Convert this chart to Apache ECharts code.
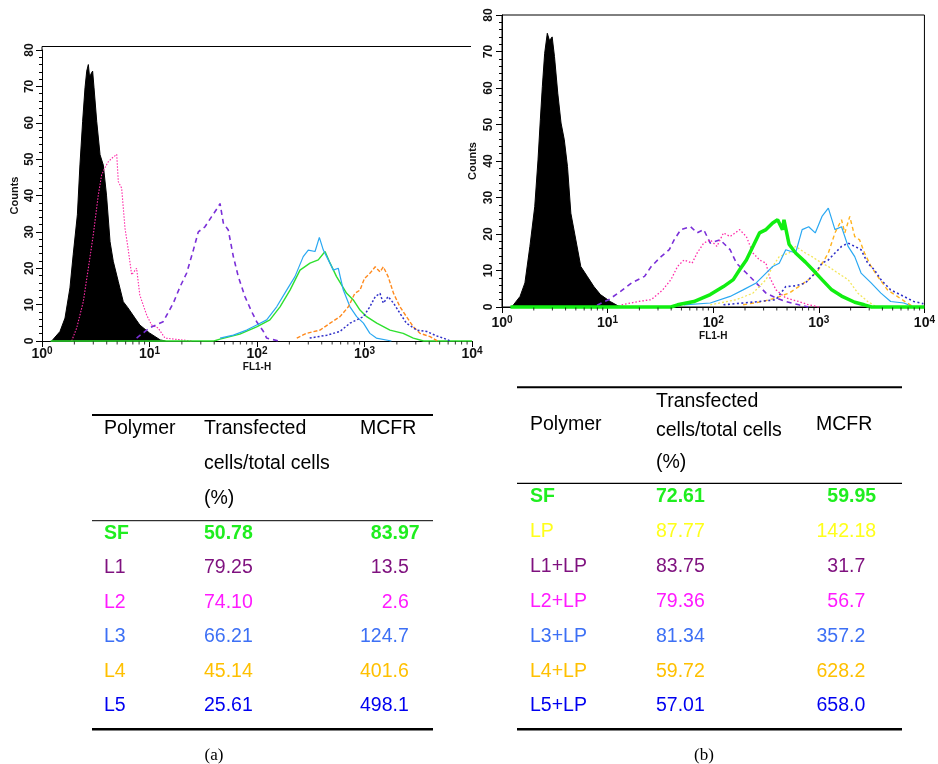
<!DOCTYPE html>
<html><head><meta charset="utf-8">
<script src="https://cdn.jsdelivr.net/npm/echarts@6/dist/echarts.min.js"></script>
<style>html,body{margin:0;padding:0;background:#fff}#c{width:938px;height:764px}</style>
</head><body><div id="c"></div>
<script>
// ---------- Histogram data: [log10(FL1-H), Counts] ----------
// Panel (a)
const controlA = [[0.09,0],[0.167,2.6],[0.214,6.3],[0.26,14.6],[0.29,23.7],[0.329,34.7],[0.353,48.4],[0.378,60.4],[0.40,69.6],[0.416,74.2],[0.431,76],[0.443,72.5],[0.453,73.3],[0.471,74.2],[0.484,69.6],[0.509,60.4],[0.54,51.2],[0.57,48.4],[0.60,40.1],[0.633,27.3],[0.663,21.9],[0.71,16.3],[0.756,10.8],[0.80,9.1],[0.865,6.3],[0.91,4.4],[1.0,2.2],[1.1,0.3],[1.15,0]];
const l2A = [[0.276,0],[0.323,3.6],[0.384,10.8],[0.431,20],[0.477,29.2],[0.524,40.2],[0.555,45.7],[0.585,47.6],[0.617,49.3],[0.648,50.2],[0.695,51.3],[0.71,43.8],[0.741,42],[0.772,31],[0.80,25.6],[0.834,18.2],[0.88,20],[0.91,12.6],[0.974,7.1],[1.02,4.4],[1.08,3.6],[1.144,0.8],[1.3,0.3],[1.4,0]];
const l1A = [[0.88,0.8],[1.0,3.6],[1.127,5.3],[1.221,10.4],[1.284,14.9],[1.346,18.7],[1.408,25],[1.454,30],[1.516,31.4],[1.578,34.2],[1.64,36.9],[1.656,37.8],[1.687,32.4],[1.733,30.5],[1.78,23.2],[1.826,17.7],[1.888,12.2],[1.95,8.1],[1.997,5.3],[2.06,2.6],[2.09,0.8],[2.2,0]];
const sfA = [[0.08,0],[1.6,0],[1.656,0.5],[1.84,1.9],[1.997,3.9],[2.12,5.8],[2.214,9.4],[2.307,14],[2.4,19.5],[2.493,21.4],[2.57,22.3],[2.633,24.6],[2.68,21.4],[2.74,17.7],[2.834,13.1],[2.896,11.3],[2.958,8.5],[3.02,6.7],[3.114,4.9],[3.237,3],[3.36,2.1],[3.454,0.8],[3.55,0],[4,0]];
const l3A = [[1.656,0.8],[1.78,1.6],[1.904,3],[1.997,4.4],[2.09,5.8],[2.183,9.4],[2.276,14],[2.353,17.7],[2.43,23.2],[2.477,25],[2.54,24.6],[2.58,28.5],[2.617,25],[2.663,22.3],[2.71,19.5],[2.756,20],[2.803,14],[2.865,9.4],[2.927,6.7],[2.99,4.9],[3.05,2.1],[3.11,0.8],[3.25,0]];
const l4A = [[2.37,0.8],[2.46,2.1],[2.586,3],[2.68,4.9],[2.772,6.7],[2.85,9.4],[2.91,13.1],[2.958,14],[3.0,17.2],[3.05,18.6],[3.1,20.4],[3.144,19],[3.175,20.4],[3.22,17.7],[3.27,13.1],[3.33,9.4],[3.39,6.7],[3.454,3.9],[3.516,2.1],[3.61,1.2],[3.68,0]];
const l5A = [[2.49,0.8],[2.65,1.6],[2.77,2.6],[2.865,4.9],[2.927,5.8],[2.99,6.7],[3.05,9.4],[3.1,12.2],[3.144,13.1],[3.175,10.4],[3.22,12.2],[3.27,10.4],[3.33,7.6],[3.39,4.9],[3.485,3],[3.58,2.6],[3.67,1.4],[3.733,0.8],[3.8,0]];
// Panel (b)
const controlB = [[0.093,0],[0.171,2.9],[0.217,6.6],[0.264,16.6],[0.31,27.5],[0.341,40.3],[0.363,51.3],[0.382,60.4],[0.404,69.5],[0.429,75],[0.45,73],[0.475,74],[0.497,68.6],[0.528,58.6],[0.559,50.4],[0.59,45.8],[0.62,38.5],[0.652,25.7],[0.699,18.4],[0.746,11.1],[0.807,8.4],[0.87,5.6],[0.932,3.4],[1.025,1.5],[1.1,0.3],[1.15,0]];
const l1B = [[0.9,0.5],[1.01,2],[1.1,3.8],[1.227,6.6],[1.35,8.4],[1.413,11.1],[1.506,13.8],[1.584,15.7],[1.63,18.4],[1.693,21.2],[1.786,22],[1.848,20.3],[1.91,21.2],[1.972,17.5],[2.065,18.4],[2.16,15.7],[2.22,12],[2.314,9.3],[2.407,6.6],[2.5,3.8],[2.594,2.5],[2.687,1.5],[2.81,0.6],[2.9,0]];
const l2B = [[1.133,0.6],[1.29,1.5],[1.413,2],[1.522,4.7],[1.6,7.5],[1.662,11.1],[1.724,12.9],[1.8,12],[1.848,14.8],[1.91,17.5],[1.972,18.4],[2.035,16.6],[2.097,20.3],[2.16,19.3],[2.25,21.2],[2.314,19.3],[2.376,14.8],[2.438,12.9],[2.5,12],[2.53,8.4],[2.594,4.7],[2.687,2.5],[2.81,1.5],[2.904,0.6],[3.0,0]];
const lpB = [[1.972,0.6],[2.22,2],[2.376,3.8],[2.5,7.5],[2.563,11.1],[2.625,13.8],[2.718,14.8],[2.78,16.6],[2.873,14.8],[2.935,13.8],[3.03,12],[3.09,11.1],[3.18,9.3],[3.277,7.5],[3.37,3.8],[3.463,1.5],[3.55,0]];
const l3B = [[1.724,0.6],[1.972,1.1],[2.16,2.9],[2.283,4.7],[2.407,6.6],[2.5,9.3],[2.563,11.1],[2.625,12],[2.687,15.7],[2.78,14.8],[2.842,21.2],[2.904,22],[2.966,20.3],[3.03,24.8],[3.09,27.1],[3.153,21.2],[3.215,22],[3.277,16.6],[3.34,13.8],[3.4,9.3],[3.495,6.6],[3.588,3.8],[3.68,1.5],[3.805,1.1],[3.9,0]];
const l4B = [[2.283,0.6],[2.47,1.5],[2.594,2.5],[2.718,3.8],[2.81,5.6],[2.904,7.5],[2.997,10.2],[3.09,14.8],[3.153,20.3],[3.215,23.9],[3.246,20.3],[3.293,24.8],[3.34,19.3],[3.386,18.4],[3.433,14.8],[3.495,11.1],[3.557,8.4],[3.65,4.7],[3.743,2.9],[3.836,1.1],[3.9,0]];
const l5B = [[2.097,0.6],[2.283,1.1],[2.438,1.5],[2.594,2],[2.687,5.6],[2.78,5.8],[2.873,6.6],[2.966,9.3],[3.03,12],[3.09,12.9],[3.153,14.8],[3.215,16.6],[3.277,17.5],[3.34,16.6],[3.4,15.7],[3.463,12],[3.526,10.2],[3.588,7.5],[3.68,4.7],[3.805,2.9],[3.9,1.5],[3.99,0.9]];
const sfB = [[0.08,0],[1.6,0],[1.662,0.6],[1.817,1.5],[1.972,3.4],[2.097,5.6],[2.19,7.5],[2.25,10.2],[2.314,12.9],[2.376,16.6],[2.438,20.3],[2.5,21.2],[2.563,23],[2.61,23.9],[2.656,21.2],[2.67,23.9],[2.718,17.2],[2.78,14.8],[2.873,12.3],[2.966,9.5],[3.03,7.5],[3.122,4.7],[3.215,3.0],[3.34,1.3],[3.43,0.6],[3.5,0],[4,0]];

// axis
const yTicks = [0,10,20,30,40,50,60,70,80];
const minorMultipliers = [2,3,4,5,6,7,8,9];
const decades = [1,10,100,1000];

// ---------- Tables ----------
const tableA_polymer = ['SF','L1','L2','L3','L4','L5'];
const tableA_transfected = ['50.78','79.25','74.10','66.21','45.14','25.61'];
const tableA_mcfr = ['83.97','13.5','2.6','124.7','401.6','498.1'];
const tableB_polymer = ['SF','LP','L1+LP','L2+LP','L3+LP','L4+LP','L5+LP'];
const tableB_transfected = ['72.61','87.77','83.75','79.36','81.34','59.72','57.01'];
const tableB_mcfr = ['59.95','142.18','31.7','56.7','357.2','628.2','658.0'];

// styles
const rowColor = {SF:'#1fee1f', L1:'#7f117f', L2:'#ff1aff', L3:'#3d70f5', L4:'#ffc000', L5:'#0000f0', LP:'#ffff1a'};

const toXY = a => a.map(p => [Math.pow(10, p[0]), p[1]]);
const minorTickData = [];
decades.forEach(d => minorMultipliers.forEach(m => minorTickData.push([m*d, 0])));

const AX_FONT = '"Liberation Sans", Arial, sans-serif';

function xAxisCfg(gi, margin, nameGap) {
  return {
    gridIndex: gi, type: 'log', logBase: 10, min: 1, max: 10000,
    splitLine: {show: false},
    axisLine: {onZero: false, lineStyle: {color: '#000', width: 1}},
    axisTick: {show: true, length: 6, lineStyle: {color: '#000'}},
    minorTick: {show: false},
    axisLabel: {
      margin: margin, color: '#111',
      formatter: v => '{b|10}{s|' + Math.round(Math.log10(v)) + '}',
      rich: {
        b: {fontSize: 14, fontWeight: 'bold', fontFamily: AX_FONT, color: '#111'},
        s: {fontSize: 10, fontWeight: 'bold', fontFamily: AX_FONT, color: '#111', verticalAlign: 'top', padding: [0,0,7,0]}
      }
    },
    name: 'FL1-H', nameLocation: 'middle', nameGap: nameGap,
    nameTextStyle: {fontSize: 10, fontWeight: 'bold', fontFamily: AX_FONT, color: '#111'}
  };
}
function yAxisCfg(gi, margin, nameGap) {
  return {
    gridIndex: gi, type: 'value', min: yTicks[0], max: yTicks[yTicks.length-1], interval: 10,
    splitLine: {show: false},
    axisLine: {show: true, onZero: false, lineStyle: {color: '#000', width: 1}},
    axisTick: {show: true, length: 6, lineStyle: {color: '#000'}},
    minorTick: {show: true, splitNumber: 5, length: 3, lineStyle: {color: '#000'}},
    axisLabel: {rotate: 90, margin: margin, fontSize: 12, fontWeight: 'bold', fontFamily: AX_FONT, color: '#111'},
    name: 'Counts', nameLocation: 'middle', nameGap: nameGap, nameRotate: 90,
    nameTextStyle: {fontSize: 11, fontWeight: 'bold', fontFamily: AX_FONT, color: '#111'}
  };
}

function lineSeries(gi, data, color, width, type, extra) {
  return Object.assign({
    type: 'line', xAxisIndex: gi, yAxisIndex: gi, data: toXY(data),
    showSymbol: false, symbol: 'none', clip: false, smooth: false,
    lineStyle: {color: color, width: width, type: type},
    silent: true
  }, extra || {});
}
function minorTicks(gi) {
  return {type: 'scatter', xAxisIndex: gi, yAxisIndex: gi, data: minorTickData, clip: false,
    symbol: 'rect', symbolSize: [1, 3], symbolOffset: [0, 2], itemStyle: {color: '#000'}, silent: true, z: 5};
}

const series = [
  lineSeries(0, controlA, '#000', 1, 'solid', {areaStyle: {color: '#000', opacity: 1}}),
  lineSeries(0, l2A, '#ff2aa8', 1.1, [1.5, 1.5]),
  lineSeries(0, l1A, '#7a2fd8', 1.6, [5, 4]),
  lineSeries(0, sfA, '#2ee02e', 1.4, 'solid'),
  lineSeries(0, l3A, '#2aa8f2', 1.2, 'solid'),
  lineSeries(0, l4A, '#ff8a1e', 1.4, [4, 2]),
  lineSeries(0, l5A, '#3030c8', 1.5, [2, 2]),
  minorTicks(0),
  lineSeries(1, controlB, '#000', 1, 'solid', {areaStyle: {color: '#000', opacity: 1}}),
  lineSeries(1, l1B, '#7a2fd8', 1.6, [5, 4]),
  lineSeries(1, l2B, '#ff2aa8', 1.3, [1.5, 2]),
  lineSeries(1, lpB, '#f3e65a', 1.3, [2, 2]),
  lineSeries(1, l3B, '#2aa8f2', 1.2, 'solid'),
  lineSeries(1, l4B, '#ffb21e', 1.4, [4, 3]),
  lineSeries(1, l5B, '#3030c8', 1.6, [2, 2.5]),
  lineSeries(1, sfB, '#11ee11', 3.5, 'solid'),
  minorTicks(1)
];

// ---------- table graphics ----------
const TFONT = '"Liberation Sans", Arial, sans-serif';
function T(x, y, s, color, weight, align) {
  return {type: 'text', x: x, y: y, silent: true,
    style: {text: s, fill: color || '#000', font: (weight || 'normal') + ' 19.5px ' + TFONT,
      align: align || 'left', verticalAlign: 'middle'}};
}
function L(x1, y, x2, w) {
  return {type: 'line', silent: true, shape: {x1: x1, y1: y, x2: x2, y2: y}, style: {stroke: '#000', lineWidth: w}};
}
function numAtDecimal(xDec, y, s, color, weight) {
  const i = s.indexOf('.');
  return [T(xDec, y, s.slice(0, i), color, weight, 'right'), T(xDec, y, s.slice(i), color, weight, 'left')];
}
function colorOf(p) { return rowColor[p.split('+')[0]]; }

const g = [];
// axis frame piece of panel (a)
g.push({type: 'polyline', silent: true, shape: {points: [[42, 50], [42, 46.5], [471, 46.5]]}, style: {stroke: '#000', lineWidth: 1, fill: null}});

// Table (a)
g.push(L(92, 415, 433, 2));
g.push(T(104, 428.5, 'Polymer'));
g.push(T(204, 428.5, 'Transfected'));
g.push(T(204, 463.3, 'cells/total cells'));
g.push(T(204, 498.3, '(%)'));
g.push(T(360, 428.5, 'MCFR'));
g.push(L(92, 520.7, 433, 1));
tableA_polymer.forEach((p, i) => {
  const y = 533.5 + i * 34.5, c = colorOf(p), w = p === 'SF' ? 'bold' : 'normal';
  g.push(T(104, y, p, c, w));
  g.push(T(204, y, tableA_transfected[i], c, w));
  numAtDecimal(392.5, y, tableA_mcfr[i], c, w).forEach(e => g.push(e));
});
g.push(L(92, 729.3, 433, 2.5));
g.push({type: 'text', x: 214, y: 756, silent: true, style: {text: '(a)', fill: '#000', font: '17px "Liberation Serif", "Times New Roman", serif', align: 'center', verticalAlign: 'middle'}});

// Table (b)
g.push(L(517, 387.3, 902, 2));
g.push(T(530, 425, 'Polymer'));
g.push(T(656, 401.7, 'Transfected'));
g.push(T(656, 430.7, 'cells/total cells'));
g.push(T(656, 462.7, '(%)'));
g.push(T(816, 425, 'MCFR'));
g.push(L(517, 483.3, 902, 1.2));
tableB_polymer.forEach((p, i) => {
  const y = 496.7 + i * 34.9, c = colorOf(p), w = p === 'SF' ? 'bold' : 'normal';
  g.push(T(530, y, p, c, w));
  g.push(T(656, y, tableB_transfected[i], c, w));
  numAtDecimal(849, y, tableB_mcfr[i], c, w).forEach(e => g.push(e));
});
g.push(L(517, 729.3, 902, 2.5));
g.push({type: 'text', x: 704, y: 756, silent: true, style: {text: '(b)', fill: '#000', font: '17px "Liberation Serif", "Times New Roman", serif', align: 'center', verticalAlign: 'middle'}});

const chart = echarts.init(document.getElementById('c'), null, {renderer: 'canvas'});
chart.setOption({
  animation: false,
  backgroundColor: '#fff',
  grid: [
    {left: 42, top: 50, width: 430, height: 291},
    {left: 502, top: 15, width: 429, height: 292, show: true, borderColor: '#000', borderWidth: 1, backgroundColor: 'transparent'}
  ],
  xAxis: [xAxisCfg(0, 5, 17), xAxisCfg(1, 8, 22)],
  yAxis: [yAxisCfg(0, 6, 22), yAxisCfg(1, 7, 24)],
  series: series,
  graphic: g
});
</script></body></html>
